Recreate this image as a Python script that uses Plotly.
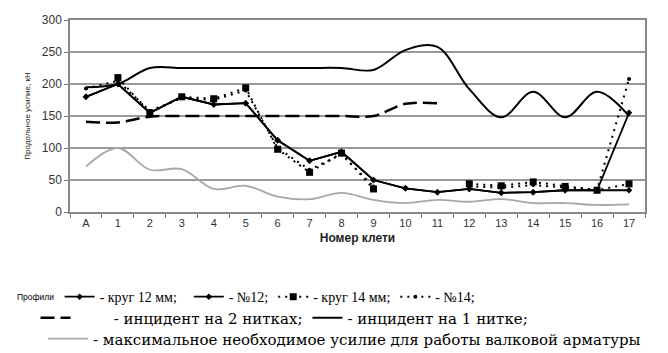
import plotly.graph_objects as go

cats = ['A', '1', '2', '3', '4', '5', '6', '7', '8', '9', '10', '11', '12', '13', '14', '15', '16', '17']
krug12 = [180, 200, 155, 180, 168, 170, 112, 80, 94, 50, 37, 31, 36, 30, 31, 34, 34, 34]
n12 = [180, 200, 155, 180, 168, 170, 112, 80, 94, 50, 37, 31, 36, 30, 31, 34, 34, 155]
krug14 = [None, 210, 155, 180, 177, 194, 98, 62, 92, 36, None, None, 44, 41, 47, 40, 34, 44]
n14 = [193, 205, 158, 178, 175, 190, 100, 66, 90, 40, None, None, 40, 38, 42, 38, 35, 208]
inc2 = [141, 140, 149, 150, 150, 150, 150, 150, 150, 150, 169, 170, None, None, None, None, None, None]
inc1 = [195, 200, 225, 225, 225, 225, 225, 225, 225, 222, 253, 258, 192, 148, 188, 148, 188, 150]
maxf = [71, 100, 66, 67, 36, 41, 24, 20, 30, 19, 14, 19, 16, 20, 14, 14, 11, 12]

serif = dict(family="Liberation Serif", size=14, color="#000")
serif2 = dict(family="DejaVu Serif", size=15, color="#000")
NB = '\u00a0'

fig = go.Figure()
fig.add_trace(go.Scatter(x=cats, y=krug12, mode='lines+markers', name='- круг 12 мм;' + NB * 2,
                         line=dict(color='#000', width=1.8), marker=dict(symbol='diamond', size=5, color='#000'), legend='legend'))
fig.add_trace(go.Scatter(x=cats, y=n12, mode='lines+markers', name='- №12;',
                         line=dict(color='#000', width=1.8), marker=dict(symbol='diamond', size=5, color='#000'), legend='legend'))
fig.add_trace(go.Scatter(x=cats, y=krug14, mode='lines+markers', name='- круг 14 мм;',
                         line=dict(color='#000', width=2, dash='2px,5px'), marker=dict(symbol='square', size=7, color='#000'),
                         connectgaps=False, legend='legend'))
fig.add_trace(go.Scatter(x=cats, y=n14, mode='lines+markers', name='- №14;',
                         line=dict(color='#000', width=2, dash='2px,5px'), marker=dict(symbol='circle', size=4, color='#000'),
                         connectgaps=False, legend='legend'))
fig.add_trace(go.Scatter(x=cats, y=inc2, mode='lines', name=NB * 8 + '- инцидент на 2 нитках;',
                         line=dict(color='#000', width=2.5, dash='14px,6px', shape='spline', smoothing=1), legend='legend2'))
fig.add_trace(go.Scatter(x=cats, y=inc1, mode='lines', name='- инцидент на 1 нитке;',
                         line=dict(color='#000', width=2, shape='spline', smoothing=1), legend='legend2'))
fig.add_trace(go.Scatter(x=cats, y=maxf, mode='lines', name='- максимальное необходимое усилие для работы валковой арматуры',
                         line=dict(color='#a8a8a8', width=1.8, shape='spline', smoothing=1), legend='legend3'))

fig.add_annotation(text='Профили', xref='paper', yref='paper', x=-0.095, y=-0.443, xanchor='left', yanchor='middle',
                   showarrow=False, font=dict(family="Liberation Sans", size=8.5, color='#000'))

fig.update_layout(
    width=668, height=353,
    margin=dict(l=70, r=23, t=20, b=141, autoexpand=False),
    paper_bgcolor='white', plot_bgcolor='white',
    font=dict(family="Liberation Sans", color="#333"),
    legend=dict(orientation='h', x=-0.018, y=-0.443, yanchor='middle', xanchor='left',
                font=serif, traceorder='normal', itemwidth=30, bgcolor='rgba(0,0,0,0)'),
    legend2=dict(orientation='h', x=-0.06, y=-0.552, yanchor='middle', xanchor='left',
                 font=serif2, itemwidth=30, bgcolor='rgba(0,0,0,0)'),
    legend3=dict(orientation='h', x=-0.047, y=-0.661, yanchor='middle', xanchor='left',
                 font=serif2, itemwidth=40, bgcolor='rgba(0,0,0,0)'),
    showlegend=True,
)
fig.update_xaxes(type='category', categoryorder='array', categoryarray=cats, range=[-0.5, 17.5],
                 tickson='boundaries', ticks='outside', ticklen=4, tickcolor='#777',
                 showline=True, linecolor='#888', linewidth=1.5, mirror=True, showgrid=False,
                 tickfont=dict(size=11, color='#333'),
                 title=dict(text='<b>Номер клети</b>', font=dict(size=12, color='#222'), standoff=6))
fig.update_yaxes(range=[0, 300], dtick=50, ticks='outside', ticklen=4, tickcolor='#777',
                 showline=True, linecolor='#888', linewidth=1.5, mirror=True,
                 showgrid=True, gridcolor='#999', gridwidth=1.5, zeroline=False,
                 tickfont=dict(size=12, color='#333'),
                 title=dict(text='Продольное усилие, кН', font=dict(size=8, color='#222'), standoff=10))

fig.write_html("out.html")
